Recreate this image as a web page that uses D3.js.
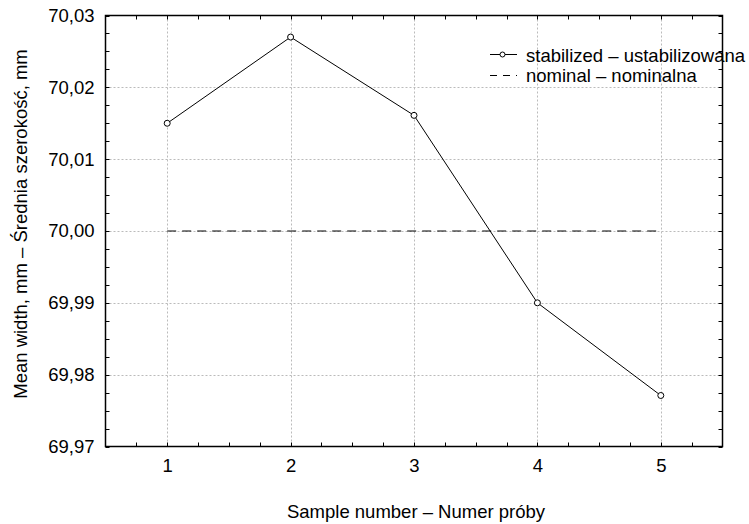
<!DOCTYPE html>
<html><head><meta charset="utf-8">
<script src="https://cdn.jsdelivr.net/npm/d3@7"></script>
<style>body{margin:0;background:#fff}text{font-family:"Liberation Sans",Arial,sans-serif;fill:#000}</style>
</head><body><svg id="c" width="749" height="524"></svg>
<script>
const samples = [1, 2, 3, 4, 5];
const stabilized = [70.015, 70.027, 70.0161, 69.990, 69.9771];
const nominal = [70.00, 70.00, 70.00, 70.00, 70.00];
const yTicks = [69.97, 69.98, 69.99, 70.00, 70.01, 70.02, 70.03];
const seriesNames = ["stabilized – ustabilizowana", "nominal – nominalna"];
const xTitle = "Sample number – Numer próby";
const yTitle = "Mean width, mm – Średnia szerokość, mm";

const FS = "18.5px";
const svg = d3.select("#c");
const L = 105.5, R = 722.5, T = 15.5, B = 446.5;
const x = d3.scaleLinear().domain([0.5, 5.5]).range([L, R]);
const y = d3.scaleLinear().domain([69.97, 70.03]).range([B, T]);
const fmt = v => d3.format(".2f")(v).replace(".", ",");

// grid
const grid = svg.append("g").attr("stroke", "#bbb").attr("stroke-dasharray", "2,2").attr("stroke-width", 1);
samples.forEach(s => grid.append("line").attr("x1", Math.round(x(s))+0.5).attr("x2", Math.round(x(s))+0.5).attr("y1", T).attr("y2", B));
yTicks.slice(1, -1).forEach(t => grid.append("line").attr("y1", Math.round(y(t))+0.5).attr("y2", Math.round(y(t))+0.5).attr("x1", L).attr("x2", R));

// minor ticks
const xMinor = d3.range(0.75, 5.5, 0.25);
const yMinor = d3.range(0, 25).map(i => 69.97 + i * 0.0025);
const tk = svg.append("g").attr("stroke", "#000").attr("stroke-width", 1);
xMinor.forEach(v => {
  const px = Math.round(x(v)) + 0.5;
  tk.append("line").attr("x1", px).attr("x2", px).attr("y1", B).attr("y2", B - 4);
  tk.append("line").attr("x1", px).attr("x2", px).attr("y1", T).attr("y2", T + 4);
});
yMinor.forEach(v => {
  const py = Math.round(y(v)) + 0.5;
  tk.append("line").attr("y1", py).attr("y2", py).attr("x1", L).attr("x2", L + 4);
  tk.append("line").attr("y1", py).attr("y2", py).attr("x1", R).attr("x2", R - 4);
});

// frame
svg.append("rect").attr("x", L).attr("y", T).attr("width", R - L).attr("height", B - T)
  .attr("fill", "none").attr("stroke", "#000").attr("stroke-width", 1.5);

// axes labels
const xAxis = d3.axisBottom(x).tickValues(samples).tickSize(0).tickPadding(12).tickFormat(d3.format("d"));
const gx = svg.append("g").attr("transform", `translate(0,${B})`).call(xAxis);
gx.select(".domain").remove();
gx.selectAll("text").style("font-size", FS).style("font-family", '"Liberation Sans",Arial,sans-serif');
const yAxis = d3.axisLeft(y).tickValues(yTicks).tickSize(0).tickPadding(11).tickFormat(fmt);
const gy = svg.append("g").attr("transform", `translate(${L},0)`).call(yAxis);
gy.select(".domain").remove();
gy.selectAll("text").style("font-size", FS).style("font-family", '"Liberation Sans",Arial,sans-serif');

// nominal line
const line = d3.line().x((d, i) => x(samples[i])).y(d => y(d));
svg.append("path").datum(nominal).attr("d", line).attr("fill", "none")
  .attr("stroke", "#000").attr("stroke-width", 1).attr("stroke-dasharray", "9,6");
// stabilized
svg.append("path").datum(stabilized).attr("d", line).attr("fill", "none")
  .attr("stroke", "#000").attr("stroke-width", 1);
svg.selectAll("circle.pt").data(stabilized).enter().append("circle").attr("class", "pt")
  .attr("cx", (d, i) => x(samples[i])).attr("cy", d => y(d)).attr("r", 3)
  .attr("fill", "#fff").attr("stroke", "#000").attr("stroke-width", 1);

// legend
const lg = svg.append("g");
lg.append("line").attr("x1", 490).attr("x2", 517).attr("y1", 54.5).attr("y2", 54.5).attr("stroke", "#000");
lg.append("circle").attr("cx", 502.5).attr("cy", 54.5).attr("r", 2.5).attr("fill", "#fff").attr("stroke", "#000");
lg.append("line").attr("x1", 490).attr("x2", 517).attr("y1", 75.5).attr("y2", 75.5).attr("stroke", "#000").attr("stroke-dasharray", "7,6");
seriesNames.forEach((n, i) => lg.append("text").attr("x", 526).attr("y", 62 + i * 20).style("font-size", FS).text(n));

// titles
svg.append("text").attr("x", (L + R) / 2 + 2).attr("y", 518).attr("text-anchor", "middle").style("font-size", FS).text(xTitle);
svg.append("text").attr("transform", `translate(27,224) rotate(-90)`).attr("text-anchor", "middle").style("font-size", FS).text(yTitle);
</script></body></html>
